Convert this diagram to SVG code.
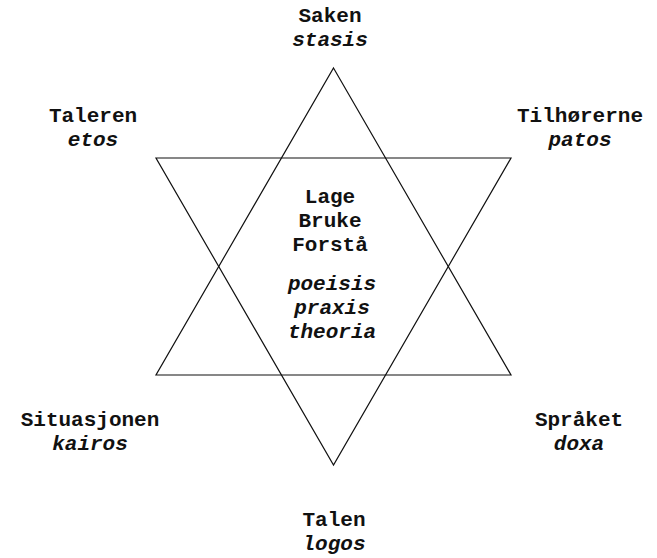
<svg xmlns="http://www.w3.org/2000/svg" width="657" height="558" viewBox="0 0 657 558">
<style>
text{font-family:"Liberation Mono","Courier New",monospace;font-weight:bold;font-size:21px;text-anchor:middle;fill:#111}
.i{font-style:italic}
.s{fill:none;stroke:#111;stroke-width:1.2}
</style>
<rect width="657" height="558" fill="#fff"/>
<g id="connectors">
<polygon class="s" points="333.5,68 511,375 156,375"/>
<polygon class="s" points="156,158 511,158 333.5,465"/>
</g>
<g id="saken"><text x="330" y="22">Saken</text><text class="i" x="330" y="46">stasis</text></g>
<g id="taleren"><text x="93" y="122">Taleren</text><text class="i" x="93" y="146">etos</text></g>
<g id="tilhorerne"><text x="580" y="122">Tilhørerne</text><text class="i" x="580" y="146">patos</text></g>
<g id="situasjonen"><text x="90" y="426">Situasjonen</text><text class="i" x="90" y="450">kairos</text></g>
<g id="spraket"><text x="579" y="426">Språket</text><text class="i" x="579" y="450">doxa</text></g>
<g id="talen"><text x="334" y="526">Talen</text><text class="i" x="334" y="550">logos</text></g>
<g id="center">
<text x="330" y="203">Lage</text><text x="330" y="227">Bruke</text><text x="330" y="251">Forstå</text>
<text class="i" x="332" y="290">poeisis</text><text class="i" x="332" y="314">praxis</text><text class="i" x="332" y="338">theoria</text>
</g>
</svg>
